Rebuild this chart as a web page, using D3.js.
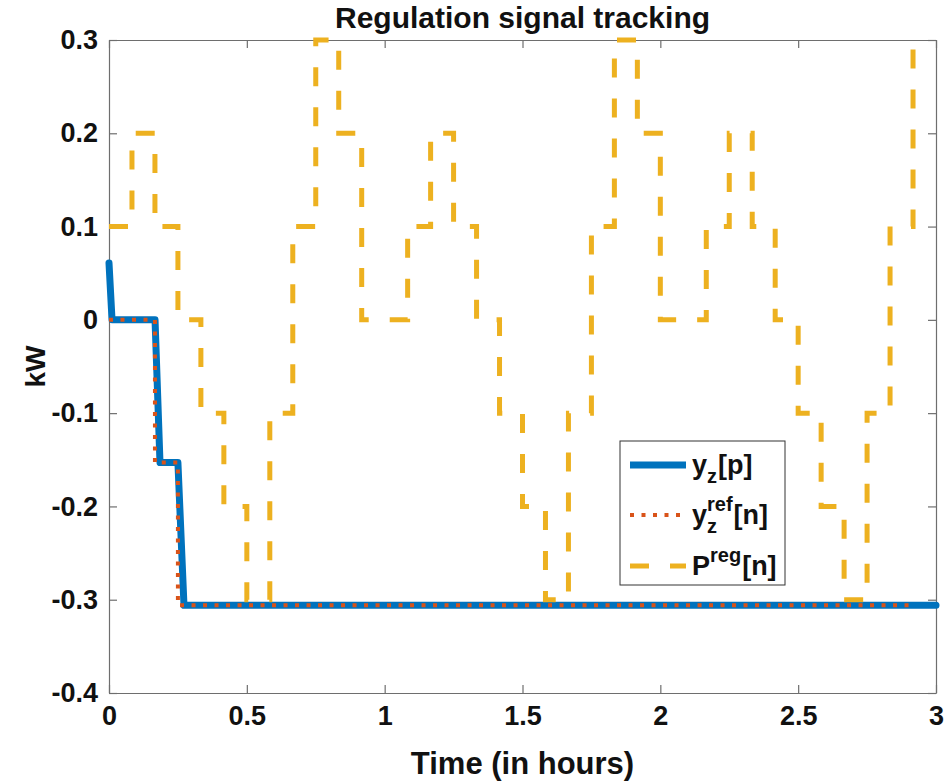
<!DOCTYPE html>
<html>
<head>
<meta charset="utf-8">
<script src="https://cdn.jsdelivr.net/npm/d3@7"></script>
<style>
  body { margin: 0; background: #fff; }
  text { font-family: "Liberation Sans", Arial, sans-serif; font-weight: bold; fill: #111; }
</style>
</head>
<body>
<svg id="chart" width="947" height="782"></svg>
<script>
// axis ticks
const xTicks = [0, 0.5, 1, 1.5, 2, 2.5, 3];
const yTicks = [-0.4, -0.3, -0.2, -0.1, 0, 0.1, 0.2, 0.3];

// y_z[p] (hours, kW)
const yzTime = [0, 0.011, 0.167, 0.185, 0.25, 0.272, 3];
const yzVal = [0.061, 0, 0, -0.153, -0.153, -0.306, -0.306];

// y_z^ref[n], stairs
const refTime = [0, 0.1667, 0.25, 2.9167];
const refVal = [0, -0.153, -0.306, -0.306];

// P^reg[n], stairs every 5 minutes
const pregMin = [0, 5, 10, 15, 20, 25, 30, 35, 40, 45, 50, 55,
                 60, 65, 70, 75, 80, 85, 90, 95, 100, 105, 110, 115,
                 120, 125, 130, 135, 140, 145, 150, 155, 160, 165, 170, 175];
const pregVal = [0.1, 0.2, 0.1, 0, -0.1, -0.2, -0.3, -0.1, 0.1, 0.3, 0.2, 0,
                 0, 0.1, 0.2, 0.1, 0, -0.1, -0.2, -0.3, -0.1, 0.1, 0.3, 0.2,
                 0, 0, 0.1, 0.2, 0.1, 0, -0.1, -0.2, -0.3, -0.1, 0.1, 0.3];

const svg = d3.select("#chart");
const plotL = 109, plotR = 936, plotT = 40, plotB = 693;

const x = d3.scaleLinear().domain([0, 3]).range([plotL, plotR]);
const y = d3.scaleLinear().domain([-0.4, 0.3]).range([plotB, plotT]);

const fmt = d => (Math.abs(d) < 1e-9 ? "0" : String(+d.toFixed(1)));

// axes (MATLAB style box with inward ticks)
const axisColor = "#6e6e6e";
function styleAxis(g) {
  g.selectAll(".domain").attr("stroke", axisColor).attr("stroke-width", 1.2);
  g.selectAll(".tick line").attr("stroke", axisColor).attr("stroke-width", 1.2);
  g.selectAll(".tick text").style("font-size", "27px").attr("fill", "#111");
}

svg.append("g")
  .attr("transform", `translate(0,${plotB})`)
  .call(d3.axisBottom(x).tickValues(xTicks).tickSize(-8).tickSizeOuter(0).tickPadding(13).tickFormat(fmt))
  .call(styleAxis);

svg.append("g")
  .attr("transform", `translate(${plotL},0)`)
  .call(d3.axisLeft(y).tickValues(yTicks).tickSize(-8).tickSizeOuter(0).tickPadding(11).tickFormat(fmt))
  .call(styleAxis);

svg.append("g")
  .attr("transform", `translate(0,${plotT})`)
  .call(d3.axisTop(x).tickValues(xTicks).tickSize(-8).tickSizeOuter(0).tickFormat(""))
  .call(styleAxis);

svg.append("g")
  .attr("transform", `translate(${plotR},0)`)
  .call(d3.axisRight(y).tickValues(yTicks).tickSize(-8).tickSizeOuter(0).tickFormat(""))
  .call(styleAxis);

// series
const blue = "#0072BD", red = "#D95319", yellow = "#EDB120";

const lineSmooth = d3.line().x(d => x(d[0])).y(d => y(d[1]));
const lineStep = d3.line().x(d => x(d[0])).y(d => y(d[1])).curve(d3.curveStepAfter);

svg.append("path")
  .datum(d3.zip(yzTime, yzVal))
  .attr("d", lineSmooth)
  .attr("fill", "none")
  .attr("stroke", blue)
  .attr("stroke-width", 7)
  .attr("stroke-linejoin", "round")
  .attr("stroke-linecap", "round");

svg.append("path")
  .datum(d3.zip(refTime, refVal))
  .attr("d", lineStep)
  .attr("fill", "none")
  .attr("stroke", red)
  .attr("stroke-width", 4)
  .attr("stroke-dasharray", "4,7.5");

svg.append("path")
  .datum(d3.zip(pregMin.map(m => m / 60), pregVal))
  .attr("d", lineStep)
  .attr("fill", "none")
  .attr("stroke", yellow)
  .attr("stroke-width", 5)
  .attr("stroke-dasharray", "19,21");

// title and labels
svg.append("text")
  .attr("x", (plotL + plotR) / 2).attr("y", 28)
  .attr("text-anchor", "middle")
  .style("font-size", "30px")
  .text("Regulation signal tracking");

svg.append("text")
  .attr("x", (plotL + plotR) / 2).attr("y", 774)
  .attr("text-anchor", "middle")
  .style("font-size", "31px")
  .text("Time (in hours)");

svg.append("text")
  .attr("transform", `translate(45,${(plotT + plotB) / 2}) rotate(-90)`)
  .attr("text-anchor", "middle")
  .style("font-size", "28px")
  .text("kW");

// legend
const leg = svg.append("g");
leg.append("rect")
  .attr("x", 620).attr("y", 441).attr("width", 165).attr("height", 144)
  .attr("fill", "#fff").attr("stroke", "#333").attr("stroke-width", 1);

const legendRows = [
  { color: blue, width: 7, dash: null, cy: 465,
    parts: [{ t: "y" }, { sub: "z" }, { t: "[p]" }] },
  { color: red, width: 4, dash: "4,7.5", cy: 515,
    parts: [{ t: "y" }, { sub: "z", sup: "ref" }, { t: "[n]" }] },
  { color: yellow, width: 5, dash: "19,21", cy: 566,
    parts: [{ t: "P" }, { sup: "reg" }, { t: "[n]" }] }
];

legendRows.forEach(r => {
  leg.append("line")
    .attr("x1", 630).attr("x2", 686).attr("y1", r.cy).attr("y2", r.cy)
    .attr("stroke", r.color).attr("stroke-width", r.width)
    .attr("stroke-dasharray", r.dash);
  let cx = 692;
  const base = r.cy + 9;
  r.parts.forEach(p => {
    if (p.t) {
      const t = leg.append("text").attr("x", cx).attr("y", base)
        .style("font-size", "27px").text(p.t);
      cx += t.node().getComputedTextLength();
    } else {
      let w = 0;
      if (p.sub) {
        const s = leg.append("text").attr("x", cx).attr("y", base + 9)
          .style("font-size", "20px").text(p.sub);
        w = Math.max(w, s.node().getComputedTextLength());
      }
      if (p.sup) {
        const s = leg.append("text").attr("x", cx).attr("y", base - 13)
          .style("font-size", "20px").text(p.sup);
        w = Math.max(w, s.node().getComputedTextLength());
      }
      cx += w + 1;
    }
  });
});
</script>
</body>
</html>
